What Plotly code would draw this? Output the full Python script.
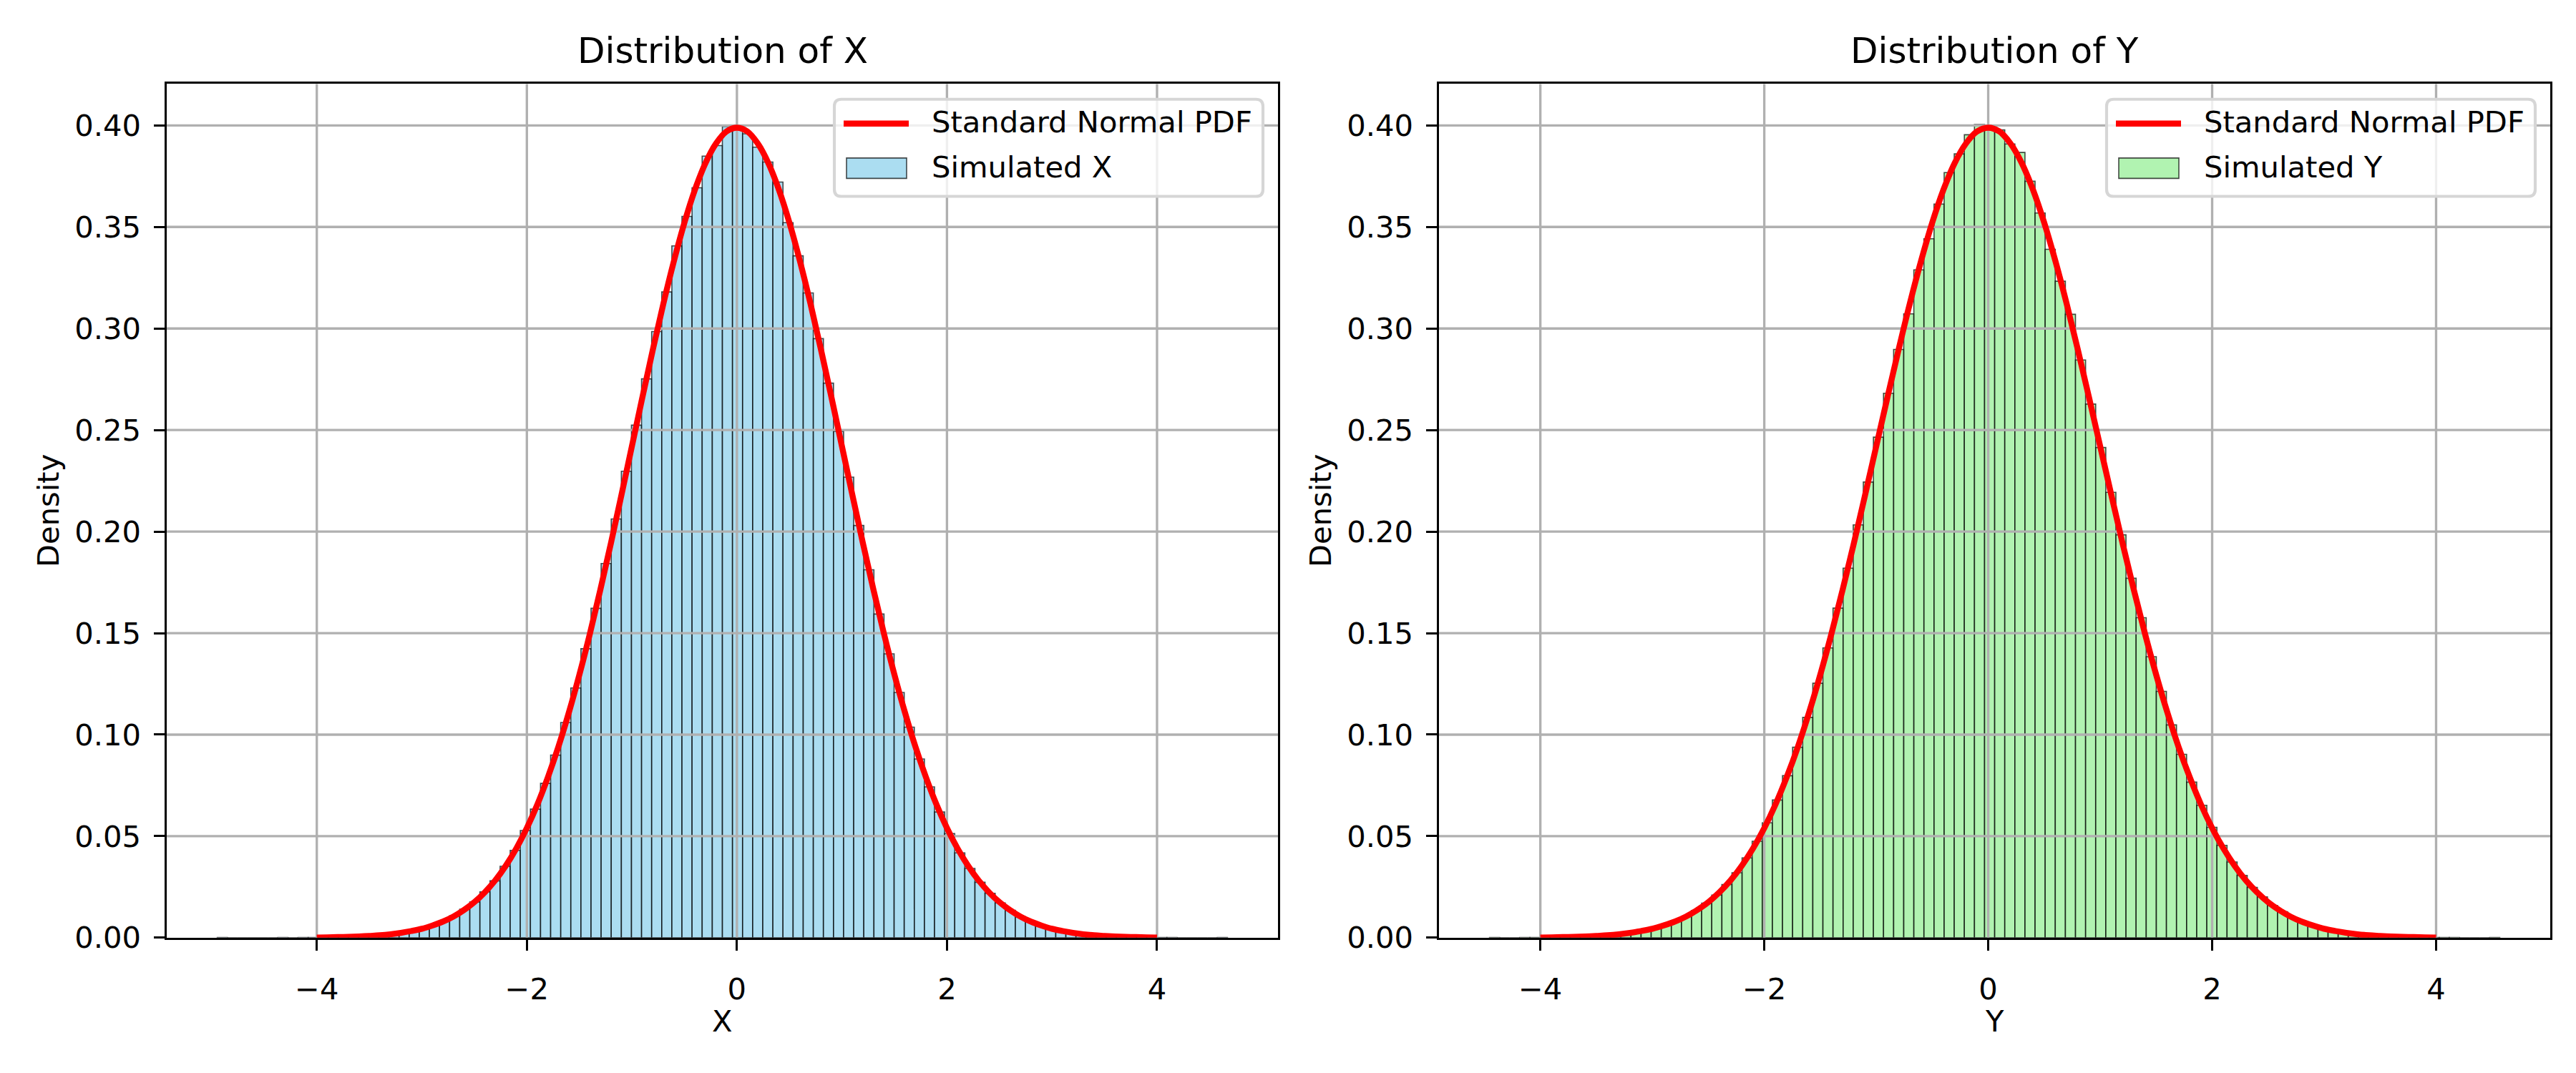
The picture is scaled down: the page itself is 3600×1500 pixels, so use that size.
import numpy as np
import plotly.graph_objects as go

# histogram of simulated X: 100 bins between sample min and max (density)
x_min, x_max = -4.948, 4.671
x_density = [
    0.0001, 0.0000, 0.0000, 0.0000, 0.0000, 0.0000, 0.0001, 0.0000, 0.0001, 0.0001,
    0.0002, 0.0003, 0.0004, 0.0005, 0.0007, 0.0010, 0.0014, 0.0019, 0.0027, 0.0035,
    0.0048, 0.0063, 0.0083, 0.0108, 0.0140, 0.0176, 0.0226, 0.0280, 0.0352, 0.0430,
    0.0528, 0.0633, 0.0760, 0.0899, 0.1060, 0.1230, 0.1423, 0.1622, 0.1843, 0.2062,
    0.2297, 0.2524, 0.2752, 0.2985, 0.3180, 0.3407, 0.3552, 0.3693, 0.3849, 0.3901,
    0.3995, 0.3985, 0.3959, 0.3893, 0.3820, 0.3721, 0.3521, 0.3358, 0.3175, 0.2950,
    0.2731, 0.2494, 0.2268, 0.2030, 0.1812, 0.1594, 0.1398, 0.1208, 0.1037, 0.0880,
    0.0743, 0.0619, 0.0513, 0.0418, 0.0341, 0.0273, 0.0219, 0.0171, 0.0135, 0.0103,
    0.0081, 0.0060, 0.0046, 0.0034, 0.0025, 0.0019, 0.0013, 0.0010, 0.0007, 0.0005,
    0.0003, 0.0002, 0.0002, 0.0001, 0.0001, 0.0000, 0.0000, 0.0000, 0.0000, 0.0001,
]

# histogram of simulated Y
y_min, y_max = -4.454, 4.569
y_density = [
    0.0001, 0.0000, 0.0000, 0.0001, 0.0001, 0.0002, 0.0002, 0.0003, 0.0004, 0.0006,
    0.0009, 0.0012, 0.0016, 0.0021, 0.0028, 0.0038, 0.0049, 0.0064, 0.0082, 0.0106,
    0.0134, 0.0170, 0.0210, 0.0262, 0.0320, 0.0393, 0.0475, 0.0566, 0.0678, 0.0798,
    0.0938, 0.1085, 0.1253, 0.1427, 0.1623, 0.1820, 0.2033, 0.2244, 0.2465, 0.2681,
    0.2897, 0.3072, 0.3289, 0.3442, 0.3613, 0.3768, 0.3860, 0.3954, 0.4005, 0.3991,
    0.3978, 0.3909, 0.3867, 0.3725, 0.3569, 0.3390, 0.3233, 0.3070, 0.2845, 0.2628,
    0.2414, 0.2193, 0.1984, 0.1770, 0.1576, 0.1384, 0.1213, 0.1048, 0.0903, 0.0766,
    0.0652, 0.0544, 0.0455, 0.0373, 0.0307, 0.0248, 0.0201, 0.0159, 0.0128, 0.0099,
    0.0078, 0.0060, 0.0046, 0.0035, 0.0026, 0.0020, 0.0015, 0.0011, 0.0008, 0.0006,
    0.0004, 0.0003, 0.0002, 0.0001, 0.0001, 0.0001, 0.0000, 0.0000, 0.0000, 0.0001,
]
n_bins = 100

# standard normal pdf, read at steps of 0.1 from -4 to 4
pdf_x = [round(-4 + 0.1 * i, 1) for i in range(81)]
pdf_y = [
    0.0001, 0.0002, 0.0003, 0.0004, 0.0006, 0.0009, 0.0012, 0.0017, 0.0024, 0.0033,
    0.0044, 0.0060, 0.0079, 0.0104, 0.0136, 0.0175, 0.0224, 0.0283, 0.0355, 0.0440,
    0.0540, 0.0656, 0.0790, 0.0940, 0.1109, 0.1295, 0.1497, 0.1714, 0.1942, 0.2179,
    0.2420, 0.2661, 0.2897, 0.3123, 0.3332, 0.3521, 0.3683, 0.3814, 0.3910, 0.3970,
    0.3989,
    0.3970, 0.3910, 0.3814, 0.3683, 0.3521, 0.3332, 0.3123, 0.2897, 0.2661, 0.2420,
    0.2179, 0.1942, 0.1714, 0.1497, 0.1295, 0.1109, 0.0940, 0.0790, 0.0656, 0.0540,
    0.0440, 0.0355, 0.0283, 0.0224, 0.0175, 0.0136, 0.0104, 0.0079, 0.0060, 0.0044,
    0.0033, 0.0024, 0.0017, 0.0012, 0.0009, 0.0006, 0.0004, 0.0003, 0.0002, 0.0001,
]

x_ticks = [-4, -2, 0, 2, 4]
y_ticks = [0.00, 0.05, 0.10, 0.15, 0.20, 0.25, 0.30, 0.35, 0.40]

W, H = 3600, 1500
FONT = "DejaVu Sans"
PT = 300 / 72  # matplotlib points -> pixels at 300 dpi
GRID = "#b0b0b0"
EDGE = "rgba(0,0,0,0.7)"

panels = [
    dict(vals=x_density, lo=x_min, hi=x_max, name="X", color="rgba(135,206,235,0.7)",
         xr=[-5.429, 5.152], dom=[0.0625, 0.4939], xa="x", ya="y", leg_left=1158),
    dict(vals=y_density, lo=y_min, hi=y_max, name="Y", color="rgba(144,238,144,0.7)",
         xr=[-4.905, 5.020], dom=[0.5564, 0.9878], xa="x2", ya="y2", leg_left=2936),
]
y_dom = [0.1167, 0.926]
y_range = [0, 0.4205]

fig = go.Figure()

for p in panels:
    edges = np.linspace(p["lo"], p["hi"], n_bins + 1)
    centers = (edges[:-1] + edges[1:]) / 2
    fig.add_trace(go.Bar(
        x=centers, y=p["vals"], width=edges[1] - edges[0],
        marker=dict(color=p["color"], line=dict(color=EDGE, width=1.6)),
        name="Simulated " + p["name"], xaxis=p["xa"], yaxis=p["ya"], showlegend=False,
    ))
    # grid drawn over the bars but under the pdf line, like matplotlib
    gx, gy = [], []
    for t in y_ticks[1:]:
        gx += [p["xr"][0], p["xr"][1], None]
        gy += [t, t, None]
    for t in x_ticks:
        gx += [t, t, None]
        gy += [y_range[0], y_range[1], None]
    fig.add_trace(go.Scatter(
        x=gx, y=gy, mode="lines", line=dict(color=GRID, width=0.8 * PT),
        hoverinfo="skip", showlegend=False, xaxis=p["xa"], yaxis=p["ya"],
    ))
    fig.add_trace(go.Scatter(
        x=pdf_x, y=pdf_y, mode="lines", line=dict(color="red", width=2 * PT, shape="spline"),
        name="Standard Normal PDF", xaxis=p["xa"], yaxis=p["ya"], showlegend=False,
    ))

axis_common = dict(
    showgrid=False, zeroline=False, showline=True, linecolor="black", linewidth=0.8 * PT,
    mirror=True, ticks="outside", ticklen=3.5 * PT, tickwidth=0.8 * PT, tickcolor="black",
    tickfont=dict(family=FONT, size=10 * PT, color="black"),
)

fig.update_layout(
    width=W, height=H,
    margin=dict(l=0, r=0, t=0, b=0),
    paper_bgcolor="white", plot_bgcolor="white",
    font=dict(family=FONT, size=10 * PT, color="black"),
    barmode="overlay", showlegend=False,
    xaxis=dict(domain=panels[0]["dom"], range=panels[0]["xr"], anchor="y",
               tickvals=x_ticks, ticklabelstandoff=18, **axis_common),
    yaxis=dict(domain=y_dom, range=y_range, anchor="x", ticklabelstandoff=10,
               tickvals=y_ticks, tickformat=".2f", **axis_common),
    xaxis2=dict(domain=panels[1]["dom"], range=panels[1]["xr"], anchor="y2",
                tickvals=x_ticks, ticklabelstandoff=18, **axis_common),
    yaxis2=dict(domain=y_dom, range=y_range, anchor="x2", ticklabelstandoff=10,
                tickvals=y_ticks, tickformat=".2f", **axis_common),
)


def px(x):
    return x / W


def py(y):
    return 1 - y / H


def rounded_box(x0, y0, x1, y1, r=10):
    # x0,y0 top-left / x1,y1 bottom-right in pixels -> svg path in paper units
    a, b, c, d = px(x0), py(y0), px(x1), py(y1)
    rx, ry = r / W, r / H
    return (f"M {a + rx},{b} L {c - rx},{b} Q {c},{b} {c},{b - ry} "
            f"L {c},{d + ry} Q {c},{d} {c - rx},{d} L {a + rx},{d} "
            f"Q {a},{d} {a},{d + ry} L {a},{b - ry} Q {a},{b} {a + rx},{b} Z")


# legends drawn the way matplotlib lays them out
for p in panels:
    L = p["leg_left"]
    fig.add_shape(type="path", path=rounded_box(L, 133, L + 599, 271),
                  xref="paper", yref="paper", layer="above",
                  fillcolor="rgba(255,255,255,0.8)", line=dict(color="#d6d6d6", width=1 * PT))
    fig.add_shape(type="line", x0=px(L + 13), x1=px(L + 104), y0=py(167.5), y1=py(167.5),
                  xref="paper", yref="paper", layer="above",
                  line=dict(color="red", width=2 * PT))
    fig.add_shape(type="rect", x0=px(L + 17), x1=px(L + 101), y0=py(216.5), y1=py(245.5),
                  xref="paper", yref="paper", layer="above",
                  fillcolor=p["color"], line=dict(color=EDGE, width=1.6))
    for txt, yc in [("Standard Normal PDF", 165), ("Simulated " + p["name"], 229)]:
        fig.add_annotation(text=txt, x=px(L + 134), y=py(yc), xref="paper", yref="paper",
                           showarrow=False, xanchor="left", yanchor="middle",
                           font=dict(family=FONT, size=10 * PT, color="black"))

for p in panels:
    mid = (p["dom"][0] + p["dom"][1]) / 2
    fig.add_annotation(text="Distribution of " + p["name"], x=mid, y=py(64),
                       xref="paper", yref="paper", showarrow=False,
                       font=dict(family=FONT, size=12 * PT, color="black"),
                       xanchor="center", yanchor="middle")
    fig.add_annotation(text=p["name"], x=mid, y=py(1444),
                       xref="paper", yref="paper", showarrow=False,
                       font=dict(family=FONT, size=10 * PT, color="black"),
                       xanchor="center", yanchor="middle")
    fig.add_annotation(text="Density", x=px(p["dom"][0] * W - 166), y=sum(y_dom) / 2,
                       xref="paper", yref="paper", showarrow=False, textangle=-90,
                       font=dict(family=FONT, size=10 * PT, color="black"),
                       xanchor="center", yanchor="middle")

fig.write_html("out.html")
